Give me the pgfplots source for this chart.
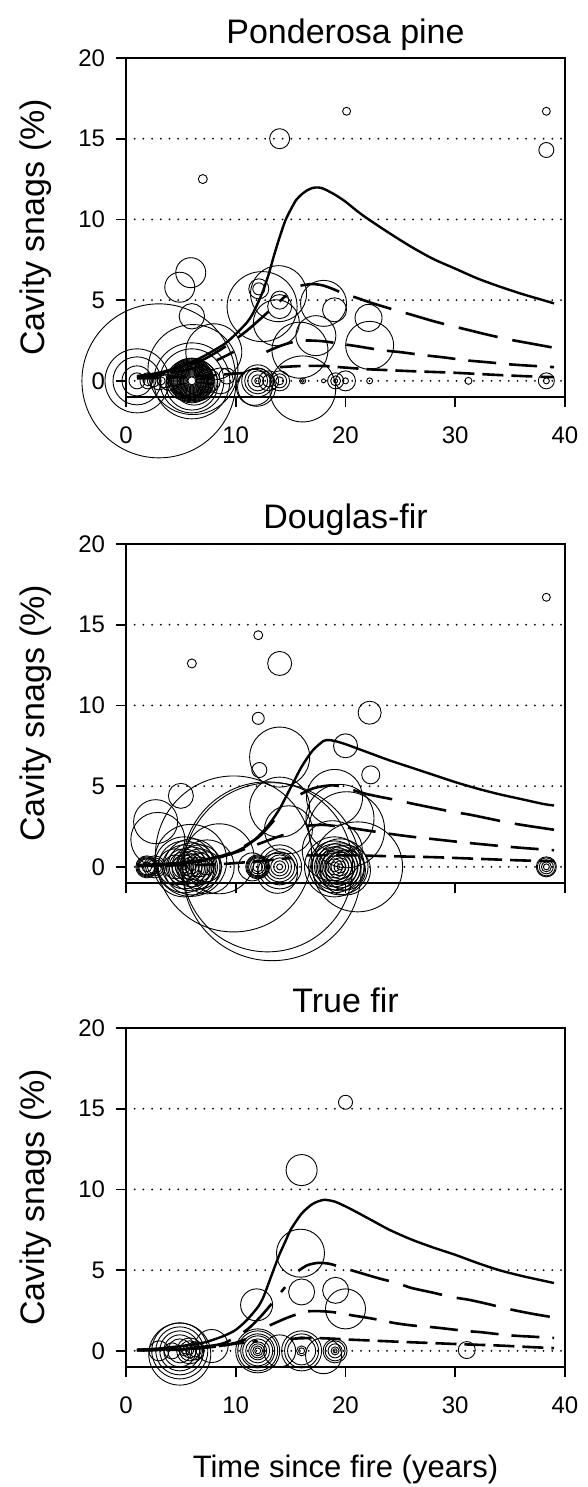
\documentclass[border=0pt]{standalone}
\usepackage{fontspec}
\setmainfont{Liberation Sans}
\usepackage{pgfplots}
\usepackage{pgfplotstable}
\pgfplotsset{compat=1.18}

% ---------- bubble data: x  y  r(radius in pt) ----------
\pgfplotstableread{
x y r
7.0 12.5 4.5
14.0 15.0 10
20.1 16.7 4
38.3 16.7 4
38.3 14.3 7.5
38.3 0 8
38.3 0 3
31.2 0 3.5
22.2 0 3
20.0 0 10
20.0 0 3
19.1 0 8
19.1 0 5
19.1 0 2
18.0 0 2
16.1 -0.5 33
16.1 0 3
16.1 0 1.5
14.0 0 10
14.0 0 7
14.0 0 4
13.0 0 10
13.0 0 6
12.0 0 16
12.0 0 13
12.0 0 10
12.0 0 6
12.0 0 3
11.9 -0.4 19
11.7 -0.4 18
12.1 5.7 10
12.1 5.7 6
12.4 4.6 35
13.9 5.4 28
14.0 5.0 9
14.0 4.6 12
13.7 3.6 23
15.85 1.9 28
17.3 2.8 20
18.0 4.8 23
19.0 4.4 12
22.1 3.9 13.5
22.2 2.2 24
5.9 6.7 15
4.9 5.8 15
6.0 4.0 12.7
1.0 0 32
1.0 0 24
1.0 0 15
1.0 0 8
3.0 0 77
2.0 0 8
2.5 0 6
3.0 0 9
3.5 0 7
4.0 0 10
4.5 0 6
2.0 0 5
3.2 0 4
6.1 0.7 45
8.0 1.8 28
8.6 0 13
9.2 0.3 8
7.5 0 12
6.0 0 38
6.0 0 32
6.0 -0.2 26
6.0 0 22
6.0 0 21
6.0 0 20
6.0 0 19
6.0 0 18
6.0 0 17
6.0 0 16
6.0 0 15
6.0 0 14
6.0 0 13
6.0 0 12
6.0 0 11
6.0 0 10
6.0 0 9
6.0 0 8
6.0 0 7
6.0 0 6
6.0 0 5
6.0 0 4
5.5 0 20
5.5 0 18
5.5 0 15
6.5 0 20
6.5 0 17
6.5 0 14
5.8 0.2 19
6.2 -0.2 21
}\bubA

\pgfplotstableread{
x y r
38.3 16.7 4
12.05 14.35 4.5
6.0 12.6 4.5
14.0 12.6 12
12.05 9.2 6
22.2 9.55 11.5
20.0 7.5 12
22.3 5.7 9
12.15 6.0 7.5
14.0 6.8 30
5.0 4.4 12.5
2.7 2.8 22
2.9 1.7 27
14.0 3.7 30
14.8 2.3 24
19.0 4.3 28
19.5 3.0 34
20.1 2.3 38
18.8 1.0 30
9.8 0.8 78
12.9 0 85
13.3 -0.3 89
21.1 0 45
5.9 0.4 36
7.4 0 27
8.5 0.5 35
1.9 0 11
1.9 0 10
1.9 0 9
1.9 0 8
1.9 0 5
2.6 0 11
2.6 0 9
2.6 0 7
5.3 0 30
5.3 0 26
5.3 0 22
5.3 0 18
5.3 0 15
5.3 0 12
5.3 0 9
5.3 0 6
5.3 0 3
6.0 0 28
6.0 0 24
6.0 0 20
6.0 0 16
6.0 0 13
6.0 0 10
6.0 0 7
6.0 0 4
6.7 0 22
6.7 0 18
6.7 0 14
6.7 0 10
7.3 0 15
7.3 0 8
4.5 0 18
4.5 0 12
12.0 0 12
12.0 0 11
12.0 0 10
12.0 0 9
12.0 0 7
12.0 0 5
11.5 0 14
14.0 0 22
14.0 0 18
14.0 0 15
14.0 0 12
14.0 0 9
14.0 0 6
14.0 0 3
13.8 -0.4 20
19.0 0 30
19.0 0 26
19.0 0 23
19.0 0 20
19.0 0 17
19.0 0 14
19.0 0 11
19.0 0 8
19.0 0 5
19.5 0 28
19.5 0 24
19.5 0 21
19.5 0 18
19.5 0 15
19.5 0 12
19.5 0 9
19.5 0 6
19.5 0 3
20.0 -0.2 25
20.0 -0.2 20
38.3 0 10
38.3 0 9
38.3 0 7
38.3 0 5
38.3 0 3
}\bubB

\pgfplotstableread{
x y r
20.0 15.4 7
16.0 11.2 15.5
15.9 6.05 24
16.0 3.65 13
11.9 2.85 16
19.1 3.75 13
20.0 2.6 20
31.05 0.05 8.5
19.05 0 12
19.05 0 10
19.05 0 7
19.05 0 4
19.05 0 2
18.0 -0.3 18
16.0 0 20
16.0 0 17
16.0 0 14
16.0 0 5
16.0 0 3
14.0 0 16
12.0 0 22
12.0 0 20
12.0 0 17
12.0 0 15
12.0 0 12
12.0 0 9
12.0 0 7
12.0 0 5
12.0 0 3
7.8 0.3 16.5
4.9 0 28
4.9 0 24
4.9 0 20
4.9 0 16
4.9 0 12
4.9 -0.2 31
5.8 0 13
5.8 0 10
5.8 0 7
5.8 0 4
6.3 0 9
6.3 0 6
3.0 0 10
4.2 0 8
5.3 0 5
5.3 0 3
}\bubC

\pgfplotsset{
  panel/.style={
    scale only axis, width=439pt, height=339pt,
    xmin=0, xmax=40, ymin=-1, ymax=20,
    xtick={0,10,20,30,40}, ytick={0,5,10,15,20},
    tick align=outside, xtick pos=left, ytick pos=left,
    major tick length=9.5pt,
    axis line style={line width=1.6pt, black},
    every tick/.style={line width=1.6pt, black},
    ymajorgrids,
    grid style={line width=2pt, line cap=round, dash pattern=on 0pt off 8.7pt, black},
    clip=false,
    tick label style={font=\fontsize{24}{28}\selectfont},
    yticklabel style={xshift=-8pt},
    xticklabel style={yshift=-17pt},
    /pgf/number format/assume math mode=true,
    anchor=north west,
  },
  bub/.style={
    scatter, only marks, mark=o,
    scatter/use mapped color={draw=black, fill=none},
    mark options={line width=0.9pt},
    visualization depends on={\thisrow{r} \as \perpointr},
    scatter/@pre marker code/.append style={/tikz/mark size=\perpointr pt},
  },
  cs/.style={line width=2.4pt, black, smooth, tension=0.45, no markers},
  cl/.style={line width=2.6pt, black, smooth, tension=0.45, no markers, dash pattern=on 40pt off 15pt},
  cm/.style={line width=2.6pt, black, smooth, tension=0.45, no markers, dash pattern=on 28pt off 13pt},
  cd/.style={line width=2.6pt, black, smooth, tension=0.45, no markers, dash pattern=on 21pt off 8pt},
}

\begin{document}
\begin{tikzpicture}
\useasboundingbox (0,0) rectangle (588pt,-1487pt);

% ================= Panel 1 =================
\begin{axis}[panel, at={(126pt,-58pt)}]
\addplot[bub] table[x=x,y=y] {\bubA};
\addplot[cs] table {
1 0.3
3 0.5
5 0.9
7 1.5
9 2.3
10 2.9
11 3.6
11.5 4.1
12 4.8
12.5 5.6
13 6.6
13.5 7.8
14 8.9
14.5 9.9
15 10.6
15.5 11.2
16 11.55
16.5 11.8
17 11.95
17.5 11.98
18 11.9
19 11.55
20 11.1
21 10.55
22 10.05
24 9.15
26 8.3
28 7.55
30 6.95
32 6.35
34 5.85
36 5.4
38 5.0
39 4.8
};
\addplot[cl] table {
1 0.25
3 0.45
5 0.8
7 1.3
9 2.1
11 3.1
13 4.3
14.6 5.3
};
\addplot[cl] table {
15.9 5.9
17 6.0
18 5.9
19 5.65
20 5.35
21 5.15
22.5 4.8
24.7 4.35
26 4.1
28 3.7
30 3.35
31.2 3.15
33 2.85
35 2.55
37 2.3
39 2.05
};
\addplot[cm] table {
1 0.2
3 0.35
5 0.6
7 0.95
8.5 1.35
9.8 1.8
};
\addplot[cm] table {
12.8 1.8
14 2.15
15.2 2.4
16.5 2.5
18 2.45
19.5 2.3
21 2.15
23.3 1.9
25 1.78
27 1.6
29 1.45
31 1.27
33 1.15
35 1.02
37 0.93
39 0.85
};
\addplot[cd] table {
1 0.15
4 0.2
7 0.3
9 0.4
11 0.5
};
\addplot[cd] table {
14 0.85
16 0.92
18 0.92
20 0.82
22 0.72
24 0.66
26 0.6
28 0.55
30 0.5
32 0.43
34 0.36
36 0.3
38 0.25
39 0.23
};
\end{axis}

% ================= Panel 2 =================
\begin{axis}[panel, at={(126pt,-544pt)}, xticklabels={}]
\addplot[bub] table[x=x,y=y] {\bubB};
\addplot[cs] table {
1 0.1
3 0.15
5 0.25
7 0.45
9 0.7
10 0.95
11 1.3
12 1.85
13 2.6
14 3.6
15 4.9
16 6.2
17 7.2
18 7.8
18.5 7.85
19 7.8
20 7.6
22 7.1
24 6.6
26 6.15
28 5.7
30 5.25
32 4.85
34 4.5
36 4.2
38 3.9
39 3.8
};
\addplot[cl] table {
1 0.1
5 0.25
8 0.55
10 1.0
12 1.8
13 2.5
14 3.3
};
\addplot[cl] table {
15.9 4.5
17 4.85
18 5.0
19 5.05
20 4.9
22 4.5
24.7 4.13
26 3.93
28 3.65
29.8 3.4
31.2 3.25
33 3.0
35 2.72
37 2.5
39 2.3
};
\addplot[cm] table {
1 0.05
5 0.2
8 0.5
10 0.9
12 1.4
14 1.9
15.5 2.2
};
\addplot[cm] table {
16.5 2.55
18 2.6
20 2.45
22 2.25
24 2.05
26 1.87
28 1.72
30 1.57
32 1.43
34 1.3
36 1.18
38 1.08
39 1.03
};
\addplot[cd] table {
1 0.05
8 0.15
12 0.35
15 0.55
};
\addplot[cd] table {
16.5 0.72
20 0.72
24 0.66
28 0.6
32 0.5
36 0.4
39 0.35
};
\end{axis}

% ================= Panel 3 =================
\begin{axis}[panel, at={(126pt,-1028pt)}]
\addplot[bub] table[x=x,y=y] {\bubC};
\addplot[cs] table {
1 0.07
3 0.15
5 0.3
7 0.5
8 0.7
9 0.95
10 1.3
11 1.9
12 2.7
12.5 3.3
13 4.2
13.6 5.3
14 6.0
14.6 6.9
15 7.5
16 8.5
17 9.1
18 9.35
19 9.25
20 8.95
21 8.6
22.5 8.05
24 7.5
26 6.9
28 6.4
30 5.95
32 5.45
34 5.0
36 4.65
38 4.35
39 4.2
};
\addplot[cl] table {
1 0.05
4 0.1
7 0.25
9 0.5
11 1.3
12.5 2.3
14.5 3.95
};
\addplot[cl] table {
15.7 4.95
16.5 5.3
17.5 5.45
18.5 5.4
19.5 5.2
21 4.9
23 4.5
24.7 4.2
26 3.9
28 3.6
29.7 3.33
31.2 3.17
33 2.9
34.8 2.6
37 2.3
39 2.07
};
\addplot[cm] table {
1 0.05
5 0.1
8 0.25
10 0.5
11 0.75
};
\addplot[cm] table {
13.1 1.58
14.5 2.0
15.5 2.25
16.6 2.45
18 2.45
19.3 2.36
20.6 2.2
22 2.05
23.3 1.89
24.5 1.72
26 1.58
28.3 1.44
31 1.23
32.3 1.16
35 0.96
37 0.88
39 0.8
};
\addplot[cd] table {
1 0.03
5 0.08
8 0.25
10 0.45
12 0.6
};
\addplot[cd] table {
15 0.75
17 0.8
19 0.75
20 0.71
22 0.65
25 0.56
28 0.48
31 0.4
34 0.33
37 0.23
39 0.17
};
\end{axis}

% ---------- titles and labels ----------
\begin{scope}[every node/.style={inner sep=0pt, font=\fontsize{34}{40}\selectfont}]
\node[anchor=base] at (345.5pt,-43.5pt) {Ponderosa pine};
\node[anchor=base] at (345.5pt,-528.5pt) {Douglas-fir};
\node[anchor=base] at (345.5pt,-1012pt) {True fir};
\node[anchor=base, rotate=90] at (44pt,-227.5pt) {Cavity snags (\%)};
\node[anchor=base, rotate=90] at (44pt,-713.5pt) {Cavity snags (\%)};
\node[anchor=base, rotate=90] at (44pt,-1197.5pt) {Cavity snags (\%)};
\node[anchor=base, font=\fontsize{31}{36}\selectfont] at (345.5pt,-1477pt) {Time since fire (years)};
\end{scope}
\end{tikzpicture}
\end{document}
